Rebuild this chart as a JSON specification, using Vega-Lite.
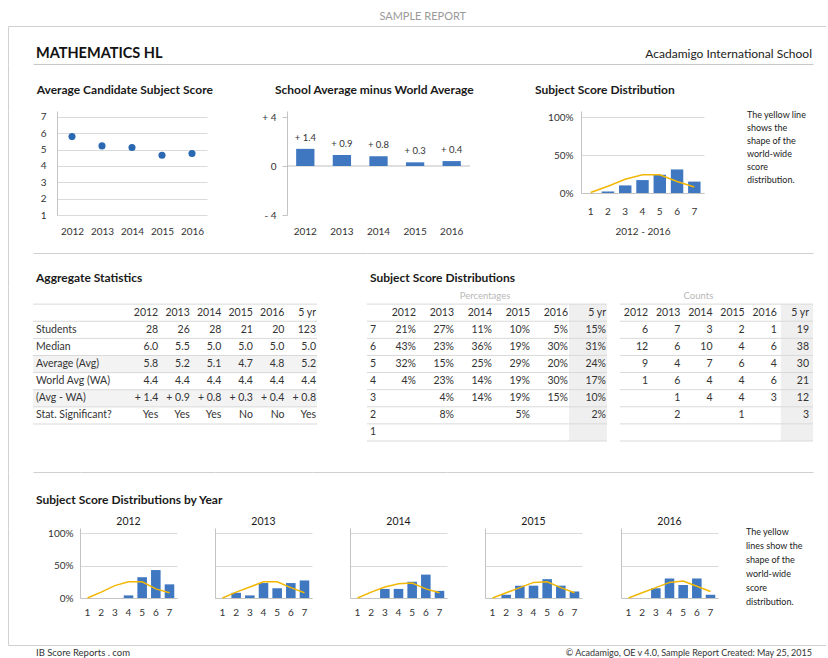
{
"$schema":"https://vega.github.io/schema/vega-lite/v6.json",
"padding":0,
"background":"white",
"spacing":0,
"bounds":"full",
"config":{
 "font":"Lato",
 "view":{"stroke":null},
 "axis":{"labelColor":"#333333","labelFontSize":10,"domainColor":"#c4c4c4","gridColor":"#dadada","tickColor":"#c4c4c4","titleColor":"#333333","labelOverlap":false},
 "text":{"color":"#333333","fontSize":10}
},
"datasets":{
 "avg":[{"year":"2012","avg":5.8},{"year":"2013","avg":5.23},{"year":"2014","avg":5.13},{"year":"2015","avg":4.66},{"year":"2016","avg":4.77}],
 "diff":[{"year":"2012","diff":1.4,"label":"+ 1.4"},{"year":"2013","diff":0.9,"label":"+ 0.9"},{"year":"2014","diff":0.8,"label":"+ 0.8"},{"year":"2015","diff":0.3,"label":"+ 0.3"},{"year":"2016","diff":0.4,"label":"+ 0.4"}],
 "dist5":[{"score":1,"pct":0,"world":0.5},{"score":2,"pct":2,"world":9},{"score":3,"pct":10,"world":18},{"score":4,"pct":17,"world":24},{"score":5,"pct":24,"world":24},{"score":6,"pct":31,"world":15},{"score":7,"pct":15,"world":8}],
 "byYear":[
  {"year":"2012","score":1,"pct":0,"world":0},{"year":"2012","score":2,"pct":0,"world":9},{"year":"2012","score":3,"pct":0,"world":19},{"year":"2012","score":4,"pct":4,"world":25},{"year":"2012","score":5,"pct":32,"world":25},{"year":"2012","score":6,"pct":43,"world":14},{"year":"2012","score":7,"pct":21,"world":8},
  {"year":"2013","score":1,"pct":0,"world":0},{"year":"2013","score":2,"pct":8,"world":9},{"year":"2013","score":3,"pct":4,"world":17},{"year":"2013","score":4,"pct":23,"world":25},{"year":"2013","score":5,"pct":15,"world":25},{"year":"2013","score":6,"pct":23,"world":16},{"year":"2013","score":7,"pct":27,"world":8},
  {"year":"2014","score":1,"pct":0,"world":0},{"year":"2014","score":2,"pct":0,"world":9},{"year":"2014","score":3,"pct":14,"world":17},{"year":"2014","score":4,"pct":14,"world":22},{"year":"2014","score":5,"pct":25,"world":23},{"year":"2014","score":6,"pct":36,"world":14},{"year":"2014","score":7,"pct":11,"world":8},
  {"year":"2015","score":1,"pct":0,"world":0},{"year":"2015","score":2,"pct":5,"world":8},{"year":"2015","score":3,"pct":19,"world":16},{"year":"2015","score":4,"pct":19,"world":24},{"year":"2015","score":5,"pct":29,"world":25},{"year":"2015","score":6,"pct":19,"world":16},{"year":"2015","score":7,"pct":10,"world":8},
  {"year":"2016","score":1,"pct":0,"world":0},{"year":"2016","score":2,"pct":0,"world":8},{"year":"2016","score":3,"pct":15,"world":16},{"year":"2016","score":4,"pct":30,"world":24},{"year":"2016","score":5,"pct":20,"world":26},{"year":"2016","score":6,"pct":30,"world":18},{"year":"2016","score":7,"pct":5,"world":10}
 ],
 "agg":[
  {"r":"hdr","2012":"2012","2013":"2013","2014":"2014","2015":"2015","2016":"2016","5 yr":"5 yr"},
  {"r":"Students","2012":"28","2013":"26","2014":"28","2015":"21","2016":"20","5 yr":"123"},
  {"r":"Median","2012":"6.0","2013":"5.5","2014":"5.0","2015":"5.0","2016":"5.0","5 yr":"5.0"},
  {"r":"Average (Avg)","2012":"5.8","2013":"5.2","2014":"5.1","2015":"4.7","2016":"4.8","5 yr":"5.2"},
  {"r":"World Avg (WA)","2012":"4.4","2013":"4.4","2014":"4.4","2015":"4.4","2016":"4.4","5 yr":"4.4"},
  {"r":"(Avg - WA)","2012":"+ 1.4","2013":"+ 0.9","2014":"+ 0.8","2015":"+ 0.3","2016":"+ 0.4","5 yr":"+ 0.8"},
  {"r":"Stat. Significant?","2012":"Yes","2013":"Yes","2014":"Yes","2015":"No","2016":"No","5 yr":"Yes"}
 ],
 "aggRows":[{"r":"super"},{"r":"hdr"},{"r":"Students"},{"r":"Median"},{"r":"Average (Avg)"},{"r":"World Avg (WA)"},{"r":"(Avg - WA)"},{"r":"Stat. Significant?"}],
 "pct":[
  {"r":"hdr","2012":"2012","2013":"2013","2014":"2014","2015":"2015","2016":"2016","5 yr":"5 yr"},
  {"r":"7","2012":"21%","2013":"27%","2014":"11%","2015":"10%","2016":"5%","5 yr":"15%"},
  {"r":"6","2012":"43%","2013":"23%","2014":"36%","2015":"19%","2016":"30%","5 yr":"31%"},
  {"r":"5","2012":"32%","2013":"15%","2014":"25%","2015":"29%","2016":"20%","5 yr":"24%"},
  {"r":"4","2012":"4%","2013":"23%","2014":"14%","2015":"19%","2016":"30%","5 yr":"17%"},
  {"r":"3","2012":"","2013":"4%","2014":"14%","2015":"19%","2016":"15%","5 yr":"10%"},
  {"r":"2","2012":"","2013":"8%","2014":"","2015":"5%","2016":"","5 yr":"2%"},
  {"r":"1","2012":"","2013":"","2014":"","2015":"","2016":"","5 yr":""}
 ],
 "cnt":[
  {"r":"hdr","2012":"2012","2013":"2013","2014":"2014","2015":"2015","2016":"2016","5 yr":"5 yr"},
  {"r":"7","2012":"6","2013":"7","2014":"3","2015":"2","2016":"1","5 yr":"19"},
  {"r":"6","2012":"12","2013":"6","2014":"10","2015":"4","2016":"6","5 yr":"38"},
  {"r":"5","2012":"9","2013":"4","2014":"7","2015":"6","2016":"4","5 yr":"30"},
  {"r":"4","2012":"1","2013":"6","2014":"4","2015":"4","2016":"6","5 yr":"21"},
  {"r":"3","2012":"","2013":"1","2014":"4","2015":"4","2016":"3","5 yr":"12"},
  {"r":"2","2012":"","2013":"2","2014":"","2015":"1","2016":"","5 yr":"3"},
  {"r":"1","2012":"","2013":"","2014":"","2015":"","2016":"","5 yr":""}
 ],
 "scoreRows":[{"r":"super"},{"r":"hdr"},{"r":"7"},{"r":"6"},{"r":"5"},{"r":"4"},{"r":"3"},{"r":"2"},{"r":"1"}]
},
"vconcat":[
 {"spacing":0,"bounds":"flush","hconcat":[
  {"width":8,"height":26,"data":{"values":[]},"mark":{"type":"point","opacity":0}},
  {"width":818,"height":26,"data":{"values":[{"t":"SAMPLE REPORT"}]},"mark":{"type":"text","fontSize":11,"color":"#9a9a9a"},"encoding":{"text":{"field":"t"},"x":{"datum":0.507,"type":"quantitative","scale":{"domain":[0,1]},"axis":{"title":null,"labels":false,"ticks":false,"grid":false,"domainColor":"#d0d0d0"}},"y":{"datum":0.36,"type":"quantitative","scale":{"domain":[0,1]},"axis":null}}}
 ]},
 {"spacing":0,"bounds":"flush","hconcat":[
  {"width":8,"height":38,"data":{"values":[]},"mark":{"type":"point","opacity":0}},
  {"width":25,"height":38,"data":{"values":[{}]},"mark":{"type":"point","opacity":0},"encoding":{"y":{"datum":0.5,"type":"quantitative","scale":{"domain":[0,1]},"axis":{"title":null,"labels":false,"ticks":false,"grid":false,"domainColor":"#d0d0d0"}}}},
  {"width":780,"height":38,"data":{"values":[{"t":"MATHEMATICS HL","s":"Acadamigo International School"}]},
   "layer":[
    {"mark":{"type":"text","align":"left","dx":3,"fontSize":14.5,"fontWeight":"bold","color":"#111111"},"encoding":{"text":{"field":"t"},"x":{"datum":0,"type":"quantitative","scale":{"domain":[0,1]},"axis":{"title":null,"labels":false,"ticks":false,"grid":false,"domainColor":"#c8c8c8"}},"y":{"datum":0.263,"type":"quantitative","scale":{"domain":[0,1]},"axis":null}}},
    {"mark":{"type":"text","align":"right","dx":-1,"fontSize":12,"color":"#222222"},"encoding":{"text":{"field":"s"},"x":{"datum":1,"type":"quantitative","scale":{"domain":[0,1]},"axis":{"title":null,"labels":false,"ticks":false,"grid":false,"domainColor":"#c8c8c8"}},"y":{"datum":0.263,"type":"quantitative","scale":{"domain":[0,1]},"axis":null}}}
   ]}
 ]},
 {"spacing":0,"bounds":"flush","hconcat":[
  {"width":8,"height":47,"data":{"values":[]},"mark":{"type":"point","opacity":0}},
  {"width":25,"height":47,"data":{"values":[{}]},"mark":{"type":"point","opacity":0},"encoding":{"y":{"datum":0.5,"type":"quantitative","scale":{"domain":[0,1]},"axis":{"title":null,"labels":false,"ticks":false,"grid":false,"domainColor":"#d0d0d0"}}}},
  {"width":242,"height":47,"data":{"values":[{"t":"Average Candidate Subject Score"}]},"mark":{"type":"text","align":"left","dx":3.7,"fontSize":12,"fontWeight":"bold","color":"#1a1a1a"},"encoding":{"text":{"field":"t"},"x":{"datum":0,"type":"quantitative","scale":{"domain":[0,1]},"axis":null},"y":{"datum":0.447,"type":"quantitative","scale":{"domain":[0,1]},"axis":null}}},
  {"width":260,"height":47,"data":{"values":[{"t":"School Average minus World Average"}]},"mark":{"type":"text","align":"left","dx":0,"fontSize":12,"fontWeight":"bold","color":"#1a1a1a"},"encoding":{"text":{"field":"t"},"x":{"datum":0,"type":"quantitative","scale":{"domain":[0,1]},"axis":null},"y":{"datum":0.447,"type":"quantitative","scale":{"domain":[0,1]},"axis":null}}},
  {"width":278,"height":47,"data":{"values":[{"t":"Subject Score Distribution"}]},"mark":{"type":"text","align":"left","dx":0,"fontSize":12,"fontWeight":"bold","color":"#1a1a1a"},"encoding":{"text":{"field":"t"},"x":{"datum":0,"type":"quantitative","scale":{"domain":[0,1]},"axis":null},"y":{"datum":0.447,"type":"quantitative","scale":{"domain":[0,1]},"axis":null}}}
 ]},
 {"spacing":0,"bounds":"flush","hconcat":[
  {"width":8,"height":142,"data":{"values":[]},"mark":{"type":"point","opacity":0}},
  {"width":25,"height":142,"data":{"values":[{}]},"mark":{"type":"point","opacity":0},"encoding":{"y":{"datum":0.5,"type":"quantitative","scale":{"domain":[0,1]},"axis":{"title":null,"labels":false,"ticks":false,"grid":false,"domainColor":"#d0d0d0"}}}},
  {"width":24,"height":0,"data":{"values":[]},"mark":{"type":"point","opacity":0}},
  {"width":150,"height":104,
   "data":{"name":"avg"},
   "mark":{"type":"circle","size":50,"color":"#2a68b1","opacity":1},
   "encoding":{
    "x":{"field":"year","type":"ordinal","scale":{"type":"point","padding":0.5},"axis":{"title":null,"labelAngle":0,"domain":false,"ticks":false,"tickSize":0,"labelPadding":11}},
    "y":{"field":"avg","type":"quantitative","scale":{"domain":[1,7.367],"nice":false,"zero":false},"axis":{"title":null,"values":[1,2,3,4,5,6,7],"ticks":false,"tickSize":0,"labelPadding":11}}}},
  {"width":80,"height":0,"data":{"values":[]},"mark":{"type":"point","opacity":0}},
  {"width":183,"height":104,
   "layer":[
    {"data":{"values":[{}]},"mark":{"type":"rule","color":"#bfbfbf"},"encoding":{"y":{"datum":0,"type":"quantitative"}}},
    {"data":{"name":"diff"},"mark":{"type":"bar","color":"#3f78c0"},"encoding":{
      "x":{"field":"year","type":"ordinal","scale":{"type":"band","paddingInner":0.5,"paddingOuter":0.25},"axis":{"title":null,"labelAngle":0,"domain":false,"ticks":false,"tickSize":0,"labelPadding":11}},
      "y":{"field":"diff","type":"quantitative","scale":{"domain":[-4,4.49],"nice":false},"axis":{"title":null,"values":[-4,0,4],"grid":false,"tickSize":5,"labelPadding":6,"labelExpr":"datum.value > 0 ? '+ ' + datum.value : (datum.value < 0 ? '- ' + (-datum.value) : '0')"}}}},
    {"data":{"name":"diff"},"mark":{"type":"text","dy":-11,"fontSize":9.5,"color":"#333333"},"encoding":{
      "x":{"field":"year","type":"ordinal"},
      "y":{"field":"diff","type":"quantitative"},
      "text":{"field":"label"}}}
   ]},
  {"width":111,"height":0,"data":{"values":[]},"mark":{"type":"point","opacity":0}},
  {"width":123,"height":82,
   "data":{"name":"dist5"},
   "encoding":{"x":{"field":"score","type":"ordinal","scale":{"type":"band","paddingInner":0.28,"paddingOuter":0.2},"axis":{"title":"2012 - 2016","titleFontWeight":"normal","titleFontSize":10,"titlePadding":10,"labelAngle":0,"ticks":false,"tickSize":0,"labelPadding":13}}},
   "layer":[
    {"mark":{"type":"bar","color":"#3f78c0"},"encoding":{"y":{"field":"pct","type":"quantitative","scale":{"domain":[0,107.9],"nice":false},"axis":{"title":null,"values":[0,50,100],"labelExpr":"datum.value + '%'","ticks":false,"tickSize":0,"labelPadding":8,"grid":true}}}},
    {"mark":{"type":"line","color":"#f2b705","strokeWidth":1.6},"encoding":{"y":{"field":"world","type":"quantitative","axis":{"title":null,"values":[0,50,100],"labelExpr":"datum.value + '%'","ticks":false,"tickSize":0,"labelPadding":8,"grid":true}}}}
   ]},
  {"width":43,"height":0,"data":{"values":[]},"mark":{"type":"point","opacity":0}},
  {"width":65,"height":80,"data":{"values":[{"t":"The yellow line\nshows the\nshape of the\nworld-wide\nscore\ndistribution."}]},"mark":{"type":"text","align":"left","baseline":"top","lineBreak":"\n","lineHeight":13,"fontSize":9,"color":"#222222"},"encoding":{"text":{"field":"t"},"x":{"datum":0,"type":"quantitative","scale":{"domain":[0,1]},"axis":null},"y":{"datum":1,"type":"quantitative","scale":{"domain":[0,1]},"axis":null}}}
 ]},
 {"spacing":0,"bounds":"flush","hconcat":[
  {"width":8,"height":34,"data":{"values":[]},"mark":{"type":"point","opacity":0}},
  {"width":25,"height":34,"data":{"values":[{}]},"mark":{"type":"point","opacity":0},"encoding":{"y":{"datum":0.5,"type":"quantitative","scale":{"domain":[0,1]},"axis":{"title":null,"labels":false,"ticks":false,"grid":false,"domainColor":"#d0d0d0"}}}},
  {"width":334,"height":34,"data":{"values":[{"t":"Aggregate Statistics"}]},"mark":{"type":"text","align":"left","dx":3,"fontSize":12,"fontWeight":"bold","color":"#1a1a1a"},"encoding":{"text":{"field":"t"},"x":{"datum":0,"type":"quantitative","scale":{"domain":[0,1]},"axis":{"orient":"top","title":null,"labels":false,"ticks":false,"grid":false,"domainColor":"#d0d0d0"}},"y":{"datum":0.256,"type":"quantitative","scale":{"domain":[0,1]},"axis":null}}},
  {"width":446,"height":34,"data":{"values":[{"t":"Subject Score Distributions"}]},"mark":{"type":"text","align":"left","dx":3,"fontSize":12,"fontWeight":"bold","color":"#1a1a1a"},"encoding":{"text":{"field":"t"},"x":{"datum":0,"type":"quantitative","scale":{"domain":[0,1]},"axis":{"orient":"top","title":null,"labels":false,"ticks":false,"grid":false,"domainColor":"#d0d0d0"}},"y":{"datum":0.256,"type":"quantitative","scale":{"domain":[0,1]},"axis":null}}}
 ]},
 {"spacing":0,"bounds":"flush","hconcat":[
  {"width":8,"height":185,"data":{"values":[]},"mark":{"type":"point","opacity":0}},
  {"width":25,"height":185,"data":{"values":[{}]},"mark":{"type":"point","opacity":0},"encoding":{"y":{"datum":0.5,"type":"quantitative","scale":{"domain":[0,1]},"axis":{"title":null,"labels":false,"ticks":false,"grid":false,"domainColor":"#d0d0d0"}}}},
  {"width":284,"height":137,
   "layer":[
    {"data":{"name":"aggRows"},"transform":[{"filter":"datum.r == 'Average (Avg)' || datum.r == '(Avg - WA)'"}],"mark":{"type":"rect","color":"#f3f3f3"},"encoding":{"y":{"field":"r","type":"nominal","scale":{"type":"band","domain":["super","hdr","Students","Median","Average (Avg)","World Avg (WA)","(Avg - WA)","Stat. Significant?"],"paddingInner":0,"paddingOuter":0},"axis":null}}},
    {"data":{"name":"aggRows"},"mark":{"type":"rule","color":"#d9d9d9"},"encoding":{"y":{"field":"r","type":"nominal","bandPosition":1,"axis":null}}},
    {"data":{"name":"agg"},"transform":[{"fold":["2012","2013","2014","2015","2016","5 yr"],"as":["c","v"]}],"mark":{"type":"text","align":"right","dx":-1,"fontSize":10.5},"encoding":{
      "x":{"field":"c","type":"nominal","bandPosition":1,"scale":{"type":"band","domain":["L1","L2","L3","2012","2013","2014","2015","2016","5 yr"],"paddingInner":0,"paddingOuter":0},"axis":null},
      "y":{"field":"r","type":"nominal","axis":null},
      "text":{"field":"v"}}},
    {"data":{"name":"agg"},"transform":[{"filter":"datum.r != 'hdr'"}],"mark":{"type":"text","align":"left","dx":3,"fontSize":10.5},"encoding":{
      "x":{"datum":"L1","type":"nominal","bandPosition":0,"axis":null},
      "y":{"field":"r","type":"nominal","axis":null},
      "text":{"field":"r"}}}
   ]},
  {"width":50,"height":0,"data":{"values":[]},"mark":{"type":"point","opacity":0}},
  {"width":240,"height":154,
   "layer":[
    {"data":{"name":"pct"},"transform":[{"fold":["5 yr"],"as":["c","v"]}],"mark":{"type":"rect","color":"#efefef"},"encoding":{
      "x":{"field":"c","type":"nominal","scale":{"type":"band","domain":["2012","2013","2014","2015","2016","5 yr"],"paddingInner":0,"paddingOuter":0.158,"align":1},"axis":null},
      "y":{"field":"r","type":"nominal","scale":{"type":"band","domain":["super","hdr","7","6","5","4","3","2","1"],"paddingInner":0,"paddingOuter":0},"axis":null}}},
    {"data":{"name":"scoreRows"},"mark":{"type":"rule","color":"#d9d9d9"},"encoding":{"y":{"field":"r","type":"nominal","bandPosition":1,"axis":null}}},
    {"data":{"name":"pct"},"transform":[{"fold":["2012","2013","2014","2015","2016","5 yr"],"as":["c","v"]}],"mark":{"type":"text","align":"right","dx":-1,"fontSize":10.5},"encoding":{
      "x":{"field":"c","type":"nominal","bandPosition":1,"axis":null},
      "y":{"field":"r","type":"nominal","axis":null},
      "text":{"field":"v"}}},
    {"data":{"name":"pct"},"transform":[{"filter":"datum.r != 'hdr'"}],"mark":{"type":"text","align":"left","dx":-9,"fontSize":10.5},"encoding":{
      "x":{"datum":"2012","type":"nominal","bandPosition":0,"axis":null},
      "y":{"field":"r","type":"nominal","axis":null},
      "text":{"field":"r"}}},
    {"data":{"values":[{"t":"Percentages","c":"2014","r":"super"}]},"mark":{"type":"text","dx":11,"fontSize":9.5,"color":"#b8b8b8"},"encoding":{
      "x":{"field":"c","type":"nominal","bandPosition":0.5,"axis":null},
      "y":{"field":"r","type":"nominal","axis":null},
      "text":{"field":"t"}}}
   ]},
  {"width":13,"height":0,"data":{"values":[]},"mark":{"type":"point","opacity":0}},
  {"width":193,"height":154,
   "layer":[
    {"data":{"name":"cnt"},"transform":[{"fold":["5 yr"],"as":["c","v"]}],"mark":{"type":"rect","color":"#efefef"},"encoding":{
      "x":{"field":"c","type":"nominal","scale":{"type":"band","domain":["2012","2013","2014","2015","2016","5 yr"],"paddingInner":0,"paddingOuter":0},"axis":null},
      "y":{"field":"r","type":"nominal","scale":{"type":"band","domain":["super","hdr","7","6","5","4","3","2","1"],"paddingInner":0,"paddingOuter":0},"axis":null}}},
    {"data":{"name":"scoreRows"},"mark":{"type":"rule","color":"#d9d9d9"},"encoding":{"y":{"field":"r","type":"nominal","bandPosition":1,"axis":null}}},
    {"data":{"name":"cnt"},"transform":[{"fold":["2012","2013","2014","2015","2016","5 yr"],"as":["c","v"]}],"mark":{"type":"text","align":"right","dx":-4,"fontSize":10.5},"encoding":{
      "x":{"field":"c","type":"nominal","bandPosition":1,"axis":null},
      "y":{"field":"r","type":"nominal","axis":null},
      "text":{"field":"v"}}},
    {"data":{"values":[{"t":"Counts","c":"2014","r":"super"}]},"mark":{"type":"text","dx":-2,"fontSize":9.5,"color":"#b8b8b8"},"encoding":{
      "x":{"field":"c","type":"nominal","bandPosition":0.5,"axis":null},
      "y":{"field":"r","type":"nominal","axis":null},
      "text":{"field":"t"}}}
   ]}
 ]},
 {"spacing":0,"bounds":"flush","hconcat":[
  {"width":8,"height":56,"data":{"values":[]},"mark":{"type":"point","opacity":0}},
  {"width":25,"height":56,"data":{"values":[{}]},"mark":{"type":"point","opacity":0},"encoding":{"y":{"datum":0.5,"type":"quantitative","scale":{"domain":[0,1]},"axis":{"title":null,"labels":false,"ticks":false,"grid":false,"domainColor":"#d0d0d0"}}}},
  {"width":47,"height":56,"data":{"values":[{"t":"Subject Score Distributions by Year"}]},"mark":{"type":"text","align":"left","dx":3,"fontSize":12,"fontWeight":"bold","color":"#1a1a1a"},"encoding":{"text":{"field":"t"},"x":{"datum":0,"type":"quantitative","scale":{"domain":[0,1]},"axis":{"orient":"top","title":null,"labels":false,"ticks":false,"grid":false,"domainColor":"#d0d0d0"}},"y":{"datum":0.5,"type":"quantitative","scale":{"domain":[0,1]},"axis":null}}},
  {"width":97,"height":56,"data":{"values":[{"t":"2012"}]},"mark":{"type":"text","fontSize":10.5,"color":"#1a1a1a"},"encoding":{"text":{"field":"t"},"x":{"datum":0.5,"type":"quantitative","scale":{"domain":[0,1]},"axis":{"orient":"top","title":null,"labels":false,"ticks":false,"grid":false,"domainColor":"#d0d0d0"}},"y":{"datum":0.1,"type":"quantitative","scale":{"domain":[0,1]},"axis":null}}},
  {"width":38,"height":56,"data":{"values":[{}]},"mark":{"type":"point","opacity":0},"encoding":{"x":{"datum":0.5,"type":"quantitative","scale":{"domain":[0,1]},"axis":{"orient":"top","title":null,"labels":false,"ticks":false,"grid":false,"domainColor":"#d0d0d0"}},"y":{"datum":0.5,"type":"quantitative","scale":{"domain":[0,1]},"axis":null}}},
  {"width":97,"height":56,"data":{"values":[{"t":"2013"}]},"mark":{"type":"text","fontSize":10.5,"color":"#1a1a1a"},"encoding":{"text":{"field":"t"},"x":{"datum":0.5,"type":"quantitative","scale":{"domain":[0,1]},"axis":{"orient":"top","title":null,"labels":false,"ticks":false,"grid":false,"domainColor":"#d0d0d0"}},"y":{"datum":0.1,"type":"quantitative","scale":{"domain":[0,1]},"axis":null}}},
  {"width":38,"height":56,"data":{"values":[{}]},"mark":{"type":"point","opacity":0},"encoding":{"x":{"datum":0.5,"type":"quantitative","scale":{"domain":[0,1]},"axis":{"orient":"top","title":null,"labels":false,"ticks":false,"grid":false,"domainColor":"#d0d0d0"}},"y":{"datum":0.5,"type":"quantitative","scale":{"domain":[0,1]},"axis":null}}},
  {"width":97,"height":56,"data":{"values":[{"t":"2014"}]},"mark":{"type":"text","fontSize":10.5,"color":"#1a1a1a"},"encoding":{"text":{"field":"t"},"x":{"datum":0.5,"type":"quantitative","scale":{"domain":[0,1]},"axis":{"orient":"top","title":null,"labels":false,"ticks":false,"grid":false,"domainColor":"#d0d0d0"}},"y":{"datum":0.1,"type":"quantitative","scale":{"domain":[0,1]},"axis":null}}},
  {"width":38,"height":56,"data":{"values":[{}]},"mark":{"type":"point","opacity":0},"encoding":{"x":{"datum":0.5,"type":"quantitative","scale":{"domain":[0,1]},"axis":{"orient":"top","title":null,"labels":false,"ticks":false,"grid":false,"domainColor":"#d0d0d0"}},"y":{"datum":0.5,"type":"quantitative","scale":{"domain":[0,1]},"axis":null}}},
  {"width":97,"height":56,"data":{"values":[{"t":"2015"}]},"mark":{"type":"text","fontSize":10.5,"color":"#1a1a1a"},"encoding":{"text":{"field":"t"},"x":{"datum":0.5,"type":"quantitative","scale":{"domain":[0,1]},"axis":{"orient":"top","title":null,"labels":false,"ticks":false,"grid":false,"domainColor":"#d0d0d0"}},"y":{"datum":0.1,"type":"quantitative","scale":{"domain":[0,1]},"axis":null}}},
  {"width":39,"height":56,"data":{"values":[{}]},"mark":{"type":"point","opacity":0},"encoding":{"x":{"datum":0.5,"type":"quantitative","scale":{"domain":[0,1]},"axis":{"orient":"top","title":null,"labels":false,"ticks":false,"grid":false,"domainColor":"#d0d0d0"}},"y":{"datum":0.5,"type":"quantitative","scale":{"domain":[0,1]},"axis":null}}},
  {"width":97,"height":56,"data":{"values":[{"t":"2016"}]},"mark":{"type":"text","fontSize":10.5,"color":"#1a1a1a"},"encoding":{"text":{"field":"t"},"x":{"datum":0.5,"type":"quantitative","scale":{"domain":[0,1]},"axis":{"orient":"top","title":null,"labels":false,"ticks":false,"grid":false,"domainColor":"#d0d0d0"}},"y":{"datum":0.1,"type":"quantitative","scale":{"domain":[0,1]},"axis":null}}},
  {"width":95,"height":56,"data":{"values":[{}]},"mark":{"type":"point","opacity":0},"encoding":{"x":{"datum":0.5,"type":"quantitative","scale":{"domain":[0,1]},"axis":{"orient":"top","title":null,"labels":false,"ticks":false,"grid":false,"domainColor":"#d0d0d0"}},"y":{"datum":0.5,"type":"quantitative","scale":{"domain":[0,1]},"axis":null}}}
 ]},
 {"spacing":0,"bounds":"flush","hconcat":[
  {"width":8,"height":117,"data":{"values":[]},"mark":{"type":"point","opacity":0}},
  {"width":25,"height":117,"data":{"values":[{}]},"mark":{"type":"point","opacity":0},"encoding":{"y":{"datum":0.5,"type":"quantitative","scale":{"domain":[0,1]},"axis":{"title":null,"labels":false,"ticks":false,"grid":false,"domainColor":"#d0d0d0"}}}},
  {"width":47,"height":0,"data":{"values":[]},"mark":{"type":"point","opacity":0}},
  {"width":97,"height":70,
   "data":{"name":"byYear"},"transform":[{"filter":"datum.year == '2012'"}],
   "encoding":{"x":{"field":"score","type":"ordinal","scale":{"type":"band","paddingInner":0.3,"paddingOuter":0.2},"axis":{"title":null,"labelAngle":0,"ticks":false,"tickSize":0,"labelPadding":9.5}}},
   "layer":[
    {"mark":{"type":"bar","color":"#3f78c0"},"encoding":{"y":{"field":"pct","type":"quantitative","scale":{"domain":[0,107.7],"nice":false},"axis":{"title":null,"values":[0,50,100],"labelExpr":"datum.value + '%'","ticks":false,"tickSize":0,"labelPadding":7,"grid":true}}}},
    {"mark":{"type":"line","color":"#f2b705","strokeWidth":1.5},"encoding":{"y":{"field":"world","type":"quantitative","axis":{"title":null,"values":[0,50,100],"labelExpr":"datum.value + '%'","ticks":false,"tickSize":0,"labelPadding":7,"grid":true}}}}
   ]},
  {"width":38,"height":0,"data":{"values":[]},"mark":{"type":"point","opacity":0}},
  {"width":97,"height":70,
   "data":{"name":"byYear"},"transform":[{"filter":"datum.year == '2013'"}],
   "encoding":{"x":{"field":"score","type":"ordinal","scale":{"type":"band","paddingInner":0.3,"paddingOuter":0.2},"axis":{"title":null,"labelAngle":0,"ticks":false,"tickSize":0,"labelPadding":9.5}}},
   "layer":[
    {"mark":{"type":"bar","color":"#3f78c0"},"encoding":{"y":{"field":"pct","type":"quantitative","scale":{"domain":[0,107.7],"nice":false},"axis":{"title":null,"values":[0,50,100],"labels":false,"ticks":false,"tickSize":0,"grid":true}}}},
    {"mark":{"type":"line","color":"#f2b705","strokeWidth":1.5},"encoding":{"y":{"field":"world","type":"quantitative","axis":{"title":null,"values":[0,50,100],"labels":false,"ticks":false,"tickSize":0,"grid":true}}}}
   ]},
  {"width":38,"height":0,"data":{"values":[]},"mark":{"type":"point","opacity":0}},
  {"width":97,"height":70,
   "data":{"name":"byYear"},"transform":[{"filter":"datum.year == '2014'"}],
   "encoding":{"x":{"field":"score","type":"ordinal","scale":{"type":"band","paddingInner":0.3,"paddingOuter":0.2},"axis":{"title":null,"labelAngle":0,"ticks":false,"tickSize":0,"labelPadding":9.5}}},
   "layer":[
    {"mark":{"type":"bar","color":"#3f78c0"},"encoding":{"y":{"field":"pct","type":"quantitative","scale":{"domain":[0,107.7],"nice":false},"axis":{"title":null,"values":[0,50,100],"labels":false,"ticks":false,"tickSize":0,"grid":true}}}},
    {"mark":{"type":"line","color":"#f2b705","strokeWidth":1.5},"encoding":{"y":{"field":"world","type":"quantitative","axis":{"title":null,"values":[0,50,100],"labels":false,"ticks":false,"tickSize":0,"grid":true}}}}
   ]},
  {"width":38,"height":0,"data":{"values":[]},"mark":{"type":"point","opacity":0}},
  {"width":97,"height":70,
   "data":{"name":"byYear"},"transform":[{"filter":"datum.year == '2015'"}],
   "encoding":{"x":{"field":"score","type":"ordinal","scale":{"type":"band","paddingInner":0.3,"paddingOuter":0.2},"axis":{"title":null,"labelAngle":0,"ticks":false,"tickSize":0,"labelPadding":9.5}}},
   "layer":[
    {"mark":{"type":"bar","color":"#3f78c0"},"encoding":{"y":{"field":"pct","type":"quantitative","scale":{"domain":[0,107.7],"nice":false},"axis":{"title":null,"values":[0,50,100],"labels":false,"ticks":false,"tickSize":0,"grid":true}}}},
    {"mark":{"type":"line","color":"#f2b705","strokeWidth":1.5},"encoding":{"y":{"field":"world","type":"quantitative","axis":{"title":null,"values":[0,50,100],"labels":false,"ticks":false,"tickSize":0,"grid":true}}}}
   ]},
  {"width":39,"height":0,"data":{"values":[]},"mark":{"type":"point","opacity":0}},
  {"width":97,"height":70,
   "data":{"name":"byYear"},"transform":[{"filter":"datum.year == '2016'"}],
   "encoding":{"x":{"field":"score","type":"ordinal","scale":{"type":"band","paddingInner":0.3,"paddingOuter":0.2},"axis":{"title":null,"labelAngle":0,"ticks":false,"tickSize":0,"labelPadding":9.5}}},
   "layer":[
    {"mark":{"type":"bar","color":"#3f78c0"},"encoding":{"y":{"field":"pct","type":"quantitative","scale":{"domain":[0,107.7],"nice":false},"axis":{"title":null,"values":[0,50,100],"labels":false,"ticks":false,"tickSize":0,"grid":true}}}},
    {"mark":{"type":"line","color":"#f2b705","strokeWidth":1.5},"encoding":{"y":{"field":"world","type":"quantitative","axis":{"title":null,"values":[0,50,100],"labels":false,"ticks":false,"tickSize":0,"grid":true}}}}
   ]},
  {"width":28,"height":0,"data":{"values":[]},"mark":{"type":"point","opacity":0}},
  {"width":66,"height":80,"data":{"values":[{"t":"The yellow\nlines show the\nshape of the\nworld-wide\nscore\ndistribution."}]},"mark":{"type":"text","align":"left","baseline":"top","lineBreak":"\n","lineHeight":13.9,"fontSize":9,"color":"#222222"},"encoding":{"text":{"field":"t"},"x":{"datum":0,"type":"quantitative","scale":{"domain":[0,1]},"axis":null},"y":{"datum":1,"type":"quantitative","scale":{"domain":[0,1]},"axis":null}}}
 ]},
 {"spacing":0,"bounds":"flush","hconcat":[
  {"width":8,"height":12,"data":{"values":[]},"mark":{"type":"point","opacity":0}},
  {"width":818,"height":12,"data":{"values":[{"a":"IB Score Reports . com","b":"© Acadamigo,  OE v 4.0,  Sample Report Created: May 25, 2015"}]},
   "layer":[
    {"mark":{"type":"text","align":"left","dx":28,"fontSize":9.5,"color":"#333333"},"encoding":{"text":{"field":"a"},"x":{"datum":0,"type":"quantitative","scale":{"domain":[0,1]},"axis":{"orient":"top","title":null,"labels":false,"ticks":false,"grid":false,"domainColor":"#d0d0d0"}},"y":{"datum":0.33,"type":"quantitative","scale":{"domain":[0,1]},"axis":null}}},
    {"mark":{"type":"text","align":"right","dx":-14,"fontSize":9,"color":"#333333"},"encoding":{"text":{"field":"b"},"x":{"datum":1,"type":"quantitative","scale":{"domain":[0,1]},"axis":{"orient":"top","title":null,"labels":false,"ticks":false,"grid":false,"domainColor":"#d0d0d0"}},"y":{"datum":0.33,"type":"quantitative","scale":{"domain":[0,1]},"axis":null}}}
   ]}
 ]}
]
}
